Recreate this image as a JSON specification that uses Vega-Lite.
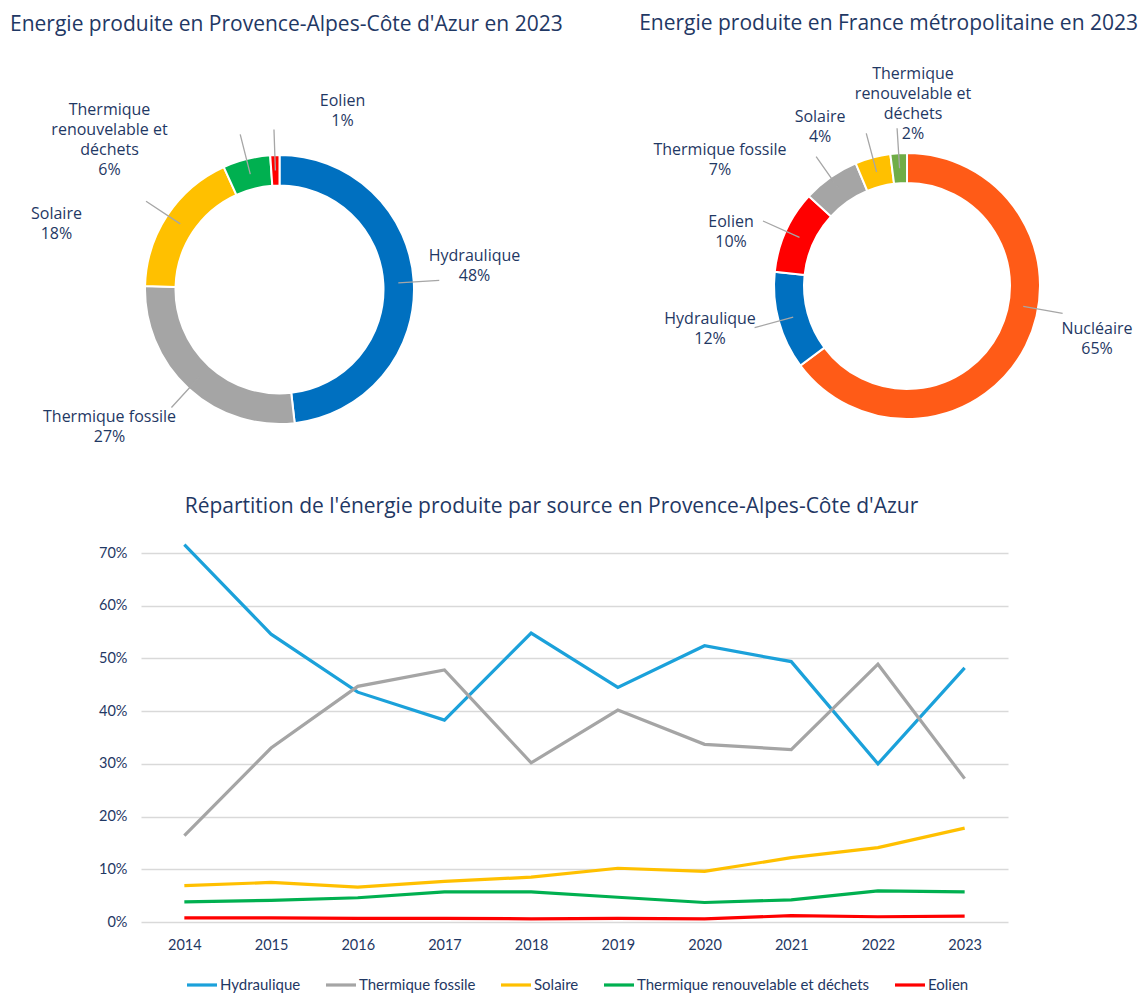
{
  "$schema": "https://vega.github.io/schema/vega-lite/v6.json",
  "padding": {"left": 0, "right": 0, "top": 12, "bottom": 0},
  "background": "white",
  "config": {"view": {"stroke": null}, "font": "Lato"},
  "datasets": {
    "paca": [
      {"source": "Hydraulique", "value": 48.2, "ord": 1, "label": "Hydraulique\n48%"},
      {"source": "Thermique fossile", "value": 27.2, "ord": 2, "label": "Thermique fossile\n27%"},
      {"source": "Solaire", "value": 17.8, "ord": 3, "label": "Solaire\n18%"},
      {"source": "Thermique renouvelable et déchets", "value": 5.7, "ord": 4, "label": "Thermique\nrenouvelable et\ndéchets\n6%"},
      {"source": "Eolien", "value": 1.1, "ord": 5, "label": "Eolien\n1%"}
    ],
    "france": [
      {"source": "Nucléaire", "value": 64.8, "ord": 1, "label": "Nucléaire\n65%"},
      {"source": "Hydraulique", "value": 11.9, "ord": 2, "label": "Hydraulique\n12%"},
      {"source": "Eolien", "value": 10.1, "ord": 3, "label": "Eolien\n10%"},
      {"source": "Thermique fossile", "value": 6.9, "ord": 4, "label": "Thermique fossile\n7%"},
      {"source": "Solaire", "value": 4.3, "ord": 5, "label": "Solaire\n4%"},
      {"source": "Thermique renouvelable et déchets", "value": 2.0, "ord": 6, "label": "Thermique\nrenouvelable et\ndéchets\n2%"}
    ],
    "series": [
      {"year": 2014, "source": "Hydraulique", "share": 0.716},
      {"year": 2015, "source": "Hydraulique", "share": 0.546},
      {"year": 2016, "source": "Hydraulique", "share": 0.436},
      {"year": 2017, "source": "Hydraulique", "share": 0.383},
      {"year": 2018, "source": "Hydraulique", "share": 0.548},
      {"year": 2019, "source": "Hydraulique", "share": 0.445},
      {"year": 2020, "source": "Hydraulique", "share": 0.524},
      {"year": 2021, "source": "Hydraulique", "share": 0.494},
      {"year": 2022, "source": "Hydraulique", "share": 0.300},
      {"year": 2023, "source": "Hydraulique", "share": 0.482},
      {"year": 2014, "source": "Thermique fossile", "share": 0.164},
      {"year": 2015, "source": "Thermique fossile", "share": 0.330},
      {"year": 2016, "source": "Thermique fossile", "share": 0.447},
      {"year": 2017, "source": "Thermique fossile", "share": 0.478},
      {"year": 2018, "source": "Thermique fossile", "share": 0.302},
      {"year": 2019, "source": "Thermique fossile", "share": 0.402},
      {"year": 2020, "source": "Thermique fossile", "share": 0.337},
      {"year": 2021, "source": "Thermique fossile", "share": 0.327},
      {"year": 2022, "source": "Thermique fossile", "share": 0.489},
      {"year": 2023, "source": "Thermique fossile", "share": 0.272},
      {"year": 2014, "source": "Solaire", "share": 0.069},
      {"year": 2015, "source": "Solaire", "share": 0.075},
      {"year": 2016, "source": "Solaire", "share": 0.066},
      {"year": 2017, "source": "Solaire", "share": 0.077},
      {"year": 2018, "source": "Solaire", "share": 0.085},
      {"year": 2019, "source": "Solaire", "share": 0.102},
      {"year": 2020, "source": "Solaire", "share": 0.096},
      {"year": 2021, "source": "Solaire", "share": 0.122},
      {"year": 2022, "source": "Solaire", "share": 0.141},
      {"year": 2023, "source": "Solaire", "share": 0.178},
      {"year": 2014, "source": "Thermique renouvelable et déchets", "share": 0.038},
      {"year": 2015, "source": "Thermique renouvelable et déchets", "share": 0.041},
      {"year": 2016, "source": "Thermique renouvelable et déchets", "share": 0.046},
      {"year": 2017, "source": "Thermique renouvelable et déchets", "share": 0.057},
      {"year": 2018, "source": "Thermique renouvelable et déchets", "share": 0.057},
      {"year": 2019, "source": "Thermique renouvelable et déchets", "share": 0.047},
      {"year": 2020, "source": "Thermique renouvelable et déchets", "share": 0.037},
      {"year": 2021, "source": "Thermique renouvelable et déchets", "share": 0.042},
      {"year": 2022, "source": "Thermique renouvelable et déchets", "share": 0.059},
      {"year": 2023, "source": "Thermique renouvelable et déchets", "share": 0.057},
      {"year": 2014, "source": "Eolien", "share": 0.008},
      {"year": 2015, "source": "Eolien", "share": 0.008},
      {"year": 2016, "source": "Eolien", "share": 0.007},
      {"year": 2017, "source": "Eolien", "share": 0.007},
      {"year": 2018, "source": "Eolien", "share": 0.006},
      {"year": 2019, "source": "Eolien", "share": 0.007},
      {"year": 2020, "source": "Eolien", "share": 0.006},
      {"year": 2021, "source": "Eolien", "share": 0.012},
      {"year": 2022, "source": "Eolien", "share": 0.010},
      {"year": 2023, "source": "Eolien", "share": 0.011}
    ]
  },
  "concat": [
    {
      "hconcat": [
        {
          "width": 277,
          "height": 377,
          "title": {"text": "Energie produite en Provence-Alpes-Côte d'Azur en 2023", "anchor": "start", "frame": "group", "dx": -131, "offset": 58, "fontSize": 21, "font": "Open Sans", "fontWeight": "normal", "color": "#1F3864"},
          "data": {"name": "paca"},
          "transform": [{"stack": "value", "groupby": [], "sort": [{"field": "ord", "order": "ascending"}], "as": ["v0", "v1"]}],
          "layer": [
            {
              "mark": {"type": "arc", "innerRadius": 104, "outerRadius": 134.5, "stroke": "white", "strokeWidth": 2},
              "encoding": {
                "theta": {"field": "v0", "type": "quantitative", "scale": {"domain": [0, 100]}},
                "theta2": {"field": "v1"},
                "color": {"field": "source", "type": "nominal", "legend": null,
                  "scale": {"domain": ["Hydraulique", "Thermique fossile", "Solaire", "Thermique renouvelable et déchets", "Eolien"],
                            "range": ["#0070C0", "#A5A5A5", "#FFC000", "#00B050", "#FF0000"]}}
              }
            },
            {
              "mark": {"type": "arc", "innerRadius": 119, "outerRadius": 160, "padAngle": 3, "filled": false, "color": "#A6A6A6", "strokeWidth": 1.3},
              "encoding": {
                "theta": {"field": "v0", "type": "quantitative"},
                "theta2": {"field": "v1"}
              }
            },
            {
              "transform": [{"filter": "datum.source === 'Hydraulique'"}],
              "mark": {"type": "text", "radius": 197.8, "thetaOffset": 1.403, "lineBreak": "\n", "lineHeight": 20, "align": "center", "baseline": "middle", "font": "Open Sans", "fontSize": 16, "color": "#1F3864"},
              "encoding": {"theta": {"field": "v0", "type": "quantitative", "stack": null}, "text": {"field": "label"}}
            },
            {
              "transform": [{"filter": "datum.source === 'Thermique fossile'"}],
              "mark": {"type": "text", "radius": 212.2, "thetaOffset": 1.042, "lineBreak": "\n", "lineHeight": 20, "align": "center", "baseline": "middle", "font": "Open Sans", "fontSize": 16, "color": "#1F3864"},
              "encoding": {"theta": {"field": "v0", "type": "quantitative", "stack": null}, "text": {"field": "label"}}
            },
            {
              "transform": [{"filter": "datum.source === 'Solaire'"}],
              "mark": {"type": "text", "radius": 235.6, "thetaOffset": 0.303, "lineBreak": "\n", "lineHeight": 20, "align": "center", "baseline": "middle", "font": "Open Sans", "fontSize": 16, "color": "#1F3864"},
              "encoding": {"theta": {"field": "v0", "type": "quantitative", "stack": null}, "text": {"field": "label"}}
            },
            {
              "transform": [{"filter": "datum.source === 'Thermique renouvelable et déchets'"}],
              "mark": {"type": "text", "radius": 246.9, "thetaOffset": -0.332, "lineBreak": "\n", "lineHeight": 20, "align": "center", "baseline": "middle", "font": "Open Sans", "fontSize": 16, "color": "#1F3864"},
              "encoding": {"theta": {"field": "v0", "type": "quantitative", "stack": null}, "text": {"field": "label"}}
            },
            {
              "transform": [{"filter": "datum.source === 'Eolien'"}],
              "mark": {"type": "text", "radius": 199.2, "thetaOffset": 0.391, "lineBreak": "\n", "lineHeight": 20, "align": "center", "baseline": "middle", "font": "Open Sans", "fontSize": 16, "color": "#1F3864"},
              "encoding": {"theta": {"field": "v0", "type": "quantitative", "stack": null}, "text": {"field": "label"}}
            }
          ]
        },
        {
          "width": 476,
          "height": 370,
          "title": {"text": "Energie produite en France métropolitaine en 2023", "anchor": "end", "frame": "group", "dx": -7, "offset": 32, "fontSize": 21, "font": "Open Sans", "fontWeight": "normal", "color": "#1F3864"},
          "data": {"name": "france"},
          "transform": [{"stack": "value", "groupby": [], "sort": [{"field": "ord", "order": "ascending"}], "as": ["v0", "v1"]}],
          "layer": [
            {
              "mark": {"type": "arc", "innerRadius": 103, "outerRadius": 133, "stroke": "white", "strokeWidth": 2},
              "encoding": {
                "theta": {"field": "v0", "type": "quantitative", "scale": {"domain": [0, 100]}},
                "theta2": {"field": "v1"},
                "color": {"field": "source", "type": "nominal", "legend": null,
                  "scale": {"domain": ["Nucléaire", "Hydraulique", "Eolien", "Thermique fossile", "Solaire", "Thermique renouvelable et déchets"],
                            "range": ["#FF5B17", "#0070C0", "#FF0000", "#A5A5A5", "#FFC000", "#70AD47"]}}
              }
            },
            {
              "transform": [{"filter": "datum.source !== 'Nucléaire'"}],
              "mark": {"type": "arc", "innerRadius": 118, "outerRadius": 158, "padAngle": 3, "filled": false, "color": "#A6A6A6", "strokeWidth": 1.3},
              "encoding": {
                "theta": {"field": "v0", "type": "quantitative"},
                "theta2": {"field": "v1"}
              }
            },
            {
              "transform": [{"filter": "datum.source === 'Nucléaire'"}],
              "mark": {"type": "arc", "innerRadius": 118, "outerRadius": 158, "padAngle": 3, "thetaOffset": 0.3, "theta2Offset": -0.882, "filled": false, "color": "#A6A6A6", "strokeWidth": 1.3},
              "encoding": {
                "theta": {"field": "v0", "type": "quantitative"},
                "theta2": {"field": "v1"}
              }
            },
            {
              "transform": [{"filter": "datum.source === 'Nucléaire'"}],
              "mark": {"type": "text", "radius": 194.8, "thetaOffset": 1.793, "lineBreak": "\n", "lineHeight": 20, "align": "center", "baseline": "middle", "font": "Open Sans", "fontSize": 16, "color": "#1F3864"},
              "encoding": {"theta": {"field": "v0", "type": "quantitative", "stack": null}, "text": {"field": "label"}}
            },
            {
              "transform": [{"filter": "datum.source === 'Hydraulique'"}],
              "mark": {"type": "text", "radius": 199.7, "thetaOffset": 0.475, "lineBreak": "\n", "lineHeight": 20, "align": "center", "baseline": "middle", "font": "Open Sans", "fontSize": 16, "color": "#1F3864"},
              "encoding": {"theta": {"field": "v0", "type": "quantitative", "stack": null}, "text": {"field": "label"}}
            },
            {
              "transform": [{"filter": "datum.source === 'Eolien'"}],
              "mark": {"type": "text", "radius": 187.3, "thetaOffset": 0.243, "lineBreak": "\n", "lineHeight": 20, "align": "center", "baseline": "middle", "font": "Open Sans", "fontSize": 16, "color": "#1F3864"},
              "encoding": {"theta": {"field": "v0", "type": "quantitative", "stack": null}, "text": {"field": "label"}}
            },
            {
              "transform": [{"filter": "datum.source === 'Thermique fossile'"}],
              "mark": {"type": "text", "radius": 231.2, "thetaOffset": -0.113, "lineBreak": "\n", "lineHeight": 20, "align": "center", "baseline": "middle", "font": "Open Sans", "fontSize": 16, "color": "#1F3864"},
              "encoding": {"theta": {"field": "v0", "type": "quantitative", "stack": null}, "text": {"field": "label"}}
            },
            {
              "transform": [{"filter": "datum.source === 'Solaire'"}],
              "mark": {"type": "text", "radius": 190.1, "thetaOffset": -0.079, "lineBreak": "\n", "lineHeight": 20, "align": "center", "baseline": "middle", "font": "Open Sans", "fontSize": 16, "color": "#1F3864"},
              "encoding": {"theta": {"field": "v0", "type": "quantitative", "stack": null}, "text": {"field": "label"}}
            },
            {
              "transform": [{"filter": "datum.source === 'Thermique renouvelable et déchets'"}],
              "mark": {"type": "text", "radius": 212.1, "thetaOffset": 0.154, "lineBreak": "\n", "lineHeight": 20, "align": "center", "baseline": "middle", "font": "Open Sans", "fontSize": 16, "color": "#1F3864"},
              "encoding": {"theta": {"field": "v0", "type": "quantitative", "stack": null}, "text": {"field": "label"}}
            }
          ]
        }
      ],
      "spacing": 251,
      "bounds": "flush",
      "resolve": {"scale": {"color": "independent", "theta": "independent"}}
    },
    {
      "width": 867,
      "height": 369,
      "title": {"text": "Répartition de l'énergie produite par source en Provence-Alpes-Côte d'Azur", "frame": "group", "dx": -23, "fontSize": 21, "font": "Open Sans", "fontWeight": "normal", "color": "#1F3864", "offset": 21},
      "data": {"name": "series"},
      "mark": {"type": "line", "strokeWidth": 3.2, "clip": false},
      "encoding": {
        "x": {"field": "year", "type": "ordinal", "scale": {"type": "point", "padding": 0.5},
          "axis": {"title": null, "labelAngle": 0, "ticks": false, "domain": false, "labelPadding": 16, "labelFontSize": 14.5, "labelColor": "#1F3864", "labelFont": "Lato"}},
        "y": {"field": "share", "type": "quantitative", "scale": {"domain": [0, 0.7], "nice": false},
          "axis": {"title": null, "format": ".0%", "values": [0, 0.1, 0.2, 0.3, 0.4, 0.5, 0.6, 0.7], "ticks": false, "domain": false, "gridColor": "#D9D9D9", "gridWidth": 1.3, "labelPadding": 14, "labelFontSize": 14.5, "labelColor": "#1F3864", "labelFont": "Lato", "minExtent": 141}},
        "color": {"field": "source", "type": "nominal", "sort": null,
          "scale": {"domain": ["Hydraulique", "Thermique fossile", "Solaire", "Thermique renouvelable et déchets", "Eolien"],
                    "range": ["#1BA1DA", "#A5A5A5", "#FFC000", "#00B050", "#FF0000"]},
          "legend": {"orient": "none", "legendX": 44, "legendY": 415, "direction": "horizontal", "title": null, "symbolType": "stroke", "symbolStrokeWidth": 3.2, "symbolSize": 900, "labelFontSize": 15, "labelFont": "Lato", "labelColor": "#1F3864", "columnPadding": 18, "labelOffset": 1, "labelLimit": 400}}
      }
    }
  ],
  "columns": 1,
  "align": "none",
  "spacing": 18,
  "resolve": {"scale": {"color": "independent", "theta": "independent"}}
}
